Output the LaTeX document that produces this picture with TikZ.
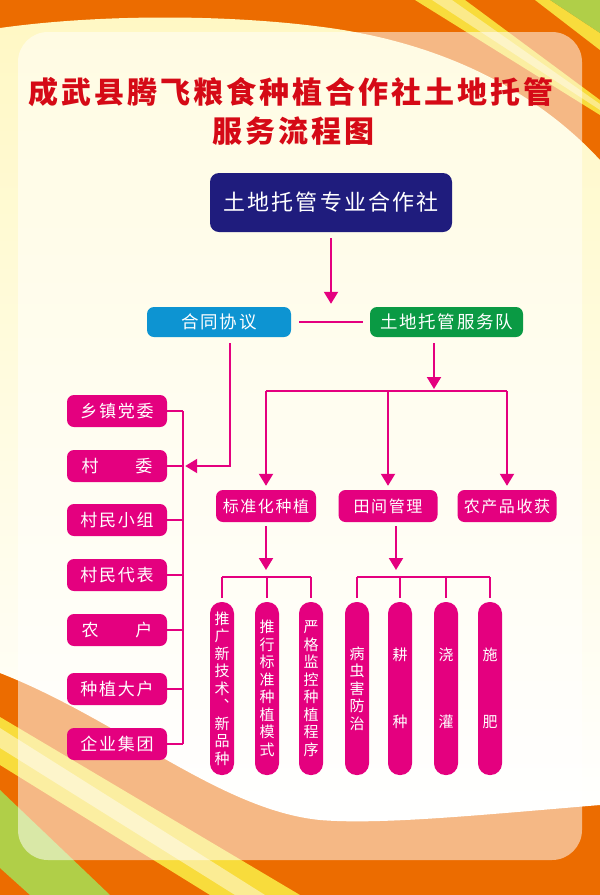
\documentclass[tikz,border=0pt]{standalone}
\usepackage{fontspec}
\newfontfamily\cjk{Noto Sans CJK SC}
\newfontfamily\cjks{Noto Sans CJK SC}[LetterSpace=10]
\usetikzlibrary{arrows.meta,calc}
\definecolor{bgorange}{HTML}{EC6C00}
\definecolor{cream}{HTML}{FFF8C4}
\definecolor{stripeyellow}{HTML}{F8DC3C}
\definecolor{stripegreen}{HTML}{B0CF48}
\definecolor{titlered}{HTML}{D50A16}
\definecolor{navy}{HTML}{1F1C7D}
\definecolor{skyblue}{HTML}{0D94D2}
\definecolor{teamgreen}{HTML}{0A9A44}
\definecolor{mag}{HTML}{E4007F}
\tikzset{
  conn/.style={draw=mag, line width=2pt},
  arr/.style={-{Triangle[width=14pt,length=12pt]}},
  rbox/.style={rounded corners=7pt, text=white, inner sep=0pt},
  lbox/.style={rbox, fill=mag, minimum width=100pt, minimum height=32pt, font=\cjks\fontsize{17}{17}\selectfont},
  mbox/.style={rbox, fill=mag, minimum width=100pt, minimum height=32pt, font=\cjks\fontsize{16}{16}\selectfont},
  pill/.style={fill=mag, rounded corners=11.5pt, minimum width=24pt, minimum height=173pt, inner sep=0pt, text=white, align=center, font=\cjk\fontsize{15}{17.5}\selectfont},
  titletext/.style={text=titlered, inner sep=0pt, font=\cjks\bfseries\fontsize{30}{30}\selectfont},
}
\begin{document}
\begin{tikzpicture}[x=1pt,y=-1pt]
\useasboundingbox (0,0) rectangle (600,895);
% ---------- background ----------
\fill[bgorange] (0,0) rectangle (600,895);
\fill[stripeyellow] (415,0) -- (465,0) -- (600,100) -- (600,115) -- cycle;
\fill[stripeyellow!60!white] (432,0) -- (452,0) -- (600,104) -- (600,110) -- cycle;
\fill[stripeyellow] (535,0) -- (550,0) -- (600,33) -- (600,50) -- cycle;
\fill[stripegreen] (550,0) -- (600,0) -- (600,33) -- cycle;
\fill[stripeyellow] (0,717) -- (0,765) -- (210,895) -- (300,895) -- cycle;
\fill[stripeyellow!55!white] (0,728) -- (0,748) -- (235,895) -- (265,895) -- cycle;
\fill[stripegreen] (0,790) -- (110,895) -- (30,895) -- (0,868) -- cycle;
\shade[top color=cream, middle color=cream!70!white, bottom color=white]
  (0,28) .. controls (100,14) and (230,14) .. (330,28)
  .. controls (450,45) and (540,95) .. (600,160) -- (600,805)
  .. controls (480,815) and (380,825) .. (320,820)
  .. controls (220,810) and (120,720) .. (0,673) -- cycle;
\fill[white, opacity=0.52, rounded corners=30pt] (18,32) rectangle (582,860);
% ---------- title ----------
\node[titletext] (t1) at (291,92) {成武县腾飞粮食种植合作社土地托管};
\node[titletext] (t2) at (293,131) {服务流程图};
% ---------- main nodes ----------
\node[rbox, fill=navy, minimum width=242pt, minimum height=59pt, rounded corners=9pt,
      font=\cjks\fontsize{22}{22}\selectfont] (coop) at (331,202.5) {土地托管专业合作社};
\node[rbox, fill=skyblue, minimum width=144pt, minimum height=30pt,
      font=\cjks\fontsize{17.5}{17.5}\selectfont] (hetong) at (219,322) {合同协议};
\node[rbox, fill=teamgreen, minimum width=153pt, minimum height=30pt,
      font=\cjks\fontsize{17.5}{17.5}\selectfont] (team) at (446.5,322) {土地托管服务队};
% left column
\node[lbox] (xiang) at (117,411) {乡镇党委};
\node[lbox] (cun) at (117,466) {村\hspace{37pt}委};
\node[lbox] (xiaozu) at (117,520) {村民小组};
\node[lbox] (daibiao) at (117,575) {村民代表};
\node[lbox] (nonghu) at (117,630) {农\hspace{37pt}户};
\node[lbox] (dahu) at (117,689) {种植大户};
\node[lbox] (qiye) at (117,744) {企业集团};
% third level
\node[mbox] (biao) at (266,506) {标准化种植};
\node[mbox, minimum width=99pt] (tian) at (388,506) {田间管理};
\node[mbox, minimum width=99pt] (shou) at (507,506) {农产品收获};
% pills
\node[pill] (p1) at (222,688.5) {推\\广\\新\\技\\术\\︑\\新\\品\\种};
\node[pill] (p2) at (267,688.5) {推\\行\\标\\准\\种\\植\\模\\式};
\node[pill] (p3) at (311,688.5) {严\\格\\监\\控\\种\\植\\程\\序};
\node[pill] (p4) at (357,688.5) {病\\虫\\害\\防\\治};
\node[pill] (p5) at (400,688.5) {耕\\[50pt]种};
\node[pill] (p6) at (446,688.5) {浇\\[50pt]灌};
\node[pill] (p7) at (490,688.5) {施\\[50pt]肥};
% ---------- coordinates ----------
\coordinate (hb) at (266,391);
\coordinate (b1) at (222,577);
\coordinate (b2) at (357,577);
% ---------- connectors ----------
\draw[conn, arr] ([yshift=-6pt]coop.south) -- ([yshift=3pt]coop.south |- team.north);
\draw[conn] ([xshift=8pt]hetong.east) -- ([xshift=-7pt]team.west);
\draw[conn, arr] ([xshift=11pt,yshift=-6pt]hetong.south) |- ([xshift=18pt]cun.east);
% left bracket
\draw[conn] ([xshift=16pt]xiang.east) -- ([xshift=16pt]qiye.east);
\foreach \n in {xiang,cun,xiaozu,daibiao,nonghu,dahu,qiye}
  \draw[conn] (\n.east) -- ([xshift=16pt]\n.east);
% service team branches
\draw[conn, arr] ([xshift=-12.5pt,yshift=-6pt]team.south) -- ([xshift=-12.5pt,yshift=2pt]team.south |- hb);
\draw[conn] (biao.north |- hb) -- (shou.north |- hb);
\foreach \n in {biao,tian,shou}
  \draw[conn, arr] (\n.north |- hb) -- ([yshift=4pt]\n.north);
% standardised planting
\draw[conn, arr] ([yshift=-4pt]biao.south) -- ([yshift=7pt]biao.south |- b1);
\draw[conn] (p1.north |- b1) -- (p3.north |- b1);
\foreach \n in {p1,p2,p3}
  \draw[conn] (\n.north |- b1) -- ([yshift=4pt]\n.north);
% field management
\draw[conn, arr] ([xshift=8pt,yshift=-4pt]tian.south) -- ([xshift=8pt,yshift=7pt]tian.south |- b2);
\draw[conn] (p4.north |- b2) -- (p7.north |- b2);
\foreach \n in {p4,p5,p6,p7}
  \draw[conn] (\n.north |- b2) -- ([yshift=4pt]\n.north);
\end{tikzpicture}
\end{document}
